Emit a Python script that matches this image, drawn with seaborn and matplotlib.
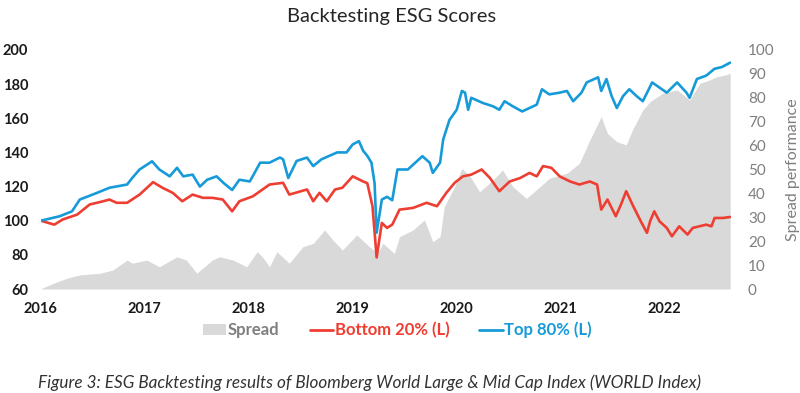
import numpy as np
import pandas as pd
import matplotlib
matplotlib.use("Agg")
import matplotlib.pyplot as plt
import seaborn as sns
from matplotlib.patches import Patch
from matplotlib.lines import Line2D

# values (dates as decimal years)
top_t = [2016.0, 2016.18, 2016.30, 2016.375, 2016.54, 2016.66, 2016.83, 2016.88, 2016.95, 2017.07,
         2017.14, 2017.24, 2017.31, 2017.37, 2017.46, 2017.53, 2017.60, 2017.69, 2017.76, 2017.84,
         2017.91, 2018.01, 2018.11, 2018.20, 2018.30, 2018.33, 2018.38, 2018.46, 2018.56, 2018.62,
         2018.70, 2018.85, 2018.94, 2019.00, 2019.06, 2019.10, 2019.14, 2019.18, 2019.21, 2019.23,
         2019.28, 2019.33, 2019.38, 2019.43, 2019.53, 2019.67, 2019.74, 2019.77, 2019.84, 2019.87,
         2019.93, 2020.00, 2020.05, 2020.08, 2020.11, 2020.14, 2020.25, 2020.35, 2020.41, 2020.46,
         2020.54, 2020.63, 2020.70, 2020.77, 2020.82, 2020.89, 2020.99, 2021.06, 2021.12, 2021.20,
         2021.25, 2021.36, 2021.39, 2021.44, 2021.49, 2021.54, 2021.60, 2021.66, 2021.73, 2021.79,
         2021.88, 2021.95, 2022.02, 2022.12, 2022.21, 2022.24, 2022.31, 2022.40, 2022.48, 2022.55,
         2022.63]
top_vals = [100, 102.6, 105.5, 112.4, 116.3, 119.3, 121.2, 125.1, 130, 134.8,
            130, 126, 131, 126, 127, 120, 124, 126, 122, 118,
            124, 123, 134, 134, 137, 136, 125, 135, 137, 132,
            136, 140, 140, 144.7, 146.6, 141, 138, 134, 122, 93,
            112.4, 114, 112, 130, 130, 137.8, 134, 128, 134, 147.6,
            159, 165, 176, 175, 165, 172, 169, 167, 165, 170,
            167, 164, 166, 168, 177, 174, 175, 176, 170, 175,
            181, 184, 176, 183, 173, 166, 173, 177, 173, 170,
            181, 178, 175, 181, 175, 172, 183, 185, 189, 190,
            192.6]

bottom_t = [2016.0, 2016.13, 2016.21, 2016.35, 2016.47, 2016.60, 2016.66, 2016.73, 2016.83, 2016.95,
            2017.08, 2017.17, 2017.27, 2017.36, 2017.46, 2017.56, 2017.65, 2017.75, 2017.84, 2017.91,
            2018.04, 2018.20, 2018.33, 2018.39, 2018.56, 2018.62, 2018.68, 2018.75, 2018.83, 2018.90,
            2019.00, 2019.10, 2019.14, 2019.19, 2019.23, 2019.28, 2019.33, 2019.38, 2019.45, 2019.58,
            2019.71, 2019.81, 2019.90, 2019.98, 2020.06, 2020.14, 2020.24, 2020.32, 2020.41, 2020.51,
            2020.61, 2020.70, 2020.77, 2020.83, 2020.91, 2020.99, 2021.09, 2021.18, 2021.28, 2021.35,
            2021.39, 2021.45, 2021.53, 2021.58, 2021.63, 2021.69, 2021.77, 2021.83, 2021.86, 2021.90,
            2021.95, 2022.02, 2022.07, 2022.14, 2022.22, 2022.27, 2022.40, 2022.45, 2022.48, 2022.56,
            2022.63]
bottom_vals = [100, 97.7, 100.7, 103.6, 109.5, 111.4, 112.4, 110.5, 110.5, 115.3,
               122.6, 119.3, 116.3, 111.4, 115.3, 113.4, 113.4, 112.4, 105.5, 111.4,
               114.3, 121.2, 122.2, 115.3, 118.3, 111.4, 116.3, 111.4, 118.3, 119.3,
               126, 123, 122, 108.5, 78.5, 98.7, 95.8, 97.7, 106.5, 107.5,
               110.5, 108.5, 116.3, 122.2, 126, 127, 130, 125, 117.3, 123,
               125, 128, 126, 132, 131, 126, 123, 121.2, 123, 121.2,
               106.5, 112.4, 102.6, 109.5, 117.3, 109.5, 99.7, 92.9, 99.7, 105.5,
               99.7, 95.8, 90.9, 96.7, 91.9, 95.8, 97.7, 96.7, 101.6, 101.6,
               102.2]

spread_t = [2016.01, 2016.12, 2016.25, 2016.375, 2016.57, 2016.69, 2016.83, 2016.88, 2017.02, 2017.14,
            2017.31, 2017.40, 2017.50, 2017.65, 2017.72, 2017.85, 2017.98, 2018.08, 2018.13, 2018.20,
            2018.27, 2018.39, 2018.52, 2018.62, 2018.73, 2018.81, 2018.90, 2019.04, 2019.16, 2019.24,
            2019.29, 2019.40, 2019.45, 2019.58, 2019.69, 2019.77, 2019.84, 2019.88, 2019.98, 2020.05,
            2020.13, 2020.22, 2020.35, 2020.44, 2020.54, 2020.67, 2020.80, 2020.89, 2021.06, 2021.18,
            2021.28, 2021.39, 2021.45, 2021.54, 2021.63, 2021.69, 2021.79, 2021.86, 2021.98, 2022.12,
            2022.24, 2022.34, 2022.43, 2022.50, 2022.58, 2022.63]
spread_vals = [0.3, 2.4, 4.5, 5.9, 6.6, 7.9, 12.1, 10.8, 12.1, 9.3,
               13.5, 12.1, 6.6, 12.1, 13.5, 12.1, 9.3, 15.6, 13.5, 9.3,
               15.6, 10.8, 17.7, 19.1, 24.7, 20.5, 16.3, 22.6, 17.7, 14.9,
               19.1, 14.9, 21.9, 24.7, 28.9, 19.8, 21.9, 34.4, 42.8, 50.5,
               47, 40.7, 45.6, 49.8, 42.8, 37.9, 42.8, 46.3, 48.4, 52.6,
               62.3, 72.1, 65.1, 61.6, 60.3, 66.5, 74.9, 78.4, 81.9, 83.3,
               79.1, 86.1, 87.4, 88.8, 89.5, 90.3]

years = [2016, 2017, 2018, 2019, 2020, 2021, 2022]

BLUE = "#169BD8"
RED = "#EE3E32"
GREY = "#D9D9D9"

sns.set_style("white")
plt.rcParams["font.family"] = ["Lato", "DejaVu Sans"]

top = pd.DataFrame({"t": top_t, "v": top_vals})
bottom = pd.DataFrame({"t": bottom_t, "v": bottom_vals})

fig = plt.figure(figsize=(8, 3.93), dpi=100)
ax = fig.add_axes([0.051, 0.2646, 0.863, 0.6082])
ax2 = ax.twinx()

# spread area on the right axis, drawn behind the lines
ax2.fill_between(spread_t, 0, spread_vals, color=GREY, lw=0)
ax2.set_ylim(0, 100)
ax2.set_yticks(range(0, 101, 10))
ax2.tick_params(axis="y", labelsize=11, colors="#7F7F7F", length=0, pad=12)
ax2.set_ylabel("Spread performance", fontsize=11.5, color="#7F7F7F", labelpad=8)

ax.set_zorder(ax2.get_zorder() + 1)
ax.patch.set_visible(False)
sns.lineplot(data=bottom, x="t", y="v", ax=ax, color=RED, lw=1.9)
sns.lineplot(data=top, x="t", y="v", ax=ax, color=BLUE, lw=1.9)

ax.set_ylim(60, 200)
ax.set_yticks(range(60, 201, 20))
ax.set_xlim(2016, 2022.64)
ax.set_xticks(years)
ax.set_xticklabels([str(y) for y in years], fontweight="bold")
for lab in ax.get_yticklabels():
    lab.set_fontweight("bold")
ax.tick_params(axis="both", labelsize=10.5, colors="#1A1A1A", length=0)
ax.tick_params(axis="y", pad=9)
ax.tick_params(axis="x", pad=9)
ax.set_xlabel("")
ax.set_ylabel("")
for a in (ax, ax2):
    for s in a.spines.values():
        s.set_visible(False)
ax.axhline(60, color="#D9D9D9", lw=0.8)

fig.text(0.489, 0.957, "Backtesting ESG Scores", ha="center", va="center", fontsize=14.5)

handles = [Patch(color=GREY, lw=0),
           Line2D([], [], color=RED, lw=2),
           Line2D([], [], color=BLUE, lw=2)]
leg = fig.legend(handles, ["Spread", "Bottom 20% (L)", "Top 80% (L)"], loc="center",
                 bbox_to_anchor=(0.497, 0.16), ncol=3, frameon=False, fontsize=12,
                 handlelength=1.4, handletextpad=0.1, columnspacing=1.8)
for txt, c in zip(leg.get_texts(), ["#7F7F7F", RED, BLUE]):
    txt.set_color(c)
    txt.set_fontweight("bold")

fig.text(0.048, 0.025, "Figure 3: ESG Backtesting results of Bloomberg World Large & Mid Cap Index (WORLD Index)",
         ha="left", va="center", fontsize=12.3, style="italic", color="#333333")

fig.savefig("out.png", dpi=100)
